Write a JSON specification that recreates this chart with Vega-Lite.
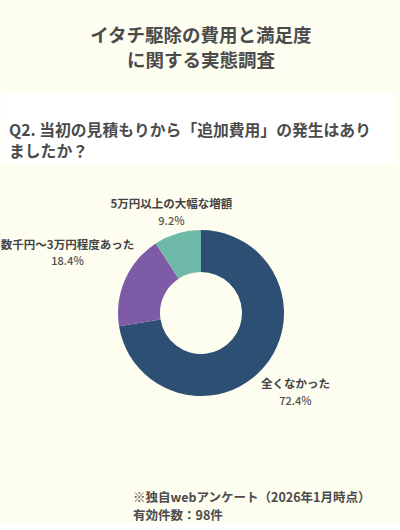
{
  "$schema": "https://vega.github.io/schema/vega-lite/v6.json",
  "background": "#fdfdf0",
  "padding": {"top": 26, "left": 0, "right": 0, "bottom": 0},
  "spacing": 0,
  "title": {
    "text": ["イタチ駆除の費用と満足度", "に関する実態調査"],
    "anchor": "middle",
    "frame": "bounds",
    "fontSize": 18.5,
    "fontWeight": "bold",
    "color": "#4b4b4b",
    "lineHeight": 25,
    "offset": 24
  },
  "config": {
    "view": {"stroke": null},
    "font": "Noto Sans CJK JP",
    "title": {"font": "Noto Sans CJK JP"},
    "text": {"font": "Noto Sans CJK JP"}
  },
  "datasets": {
    "survey": [
      {"category": "全くなかった", "count": 71, "pct": 0.724},
      {"category": "数千円～3万円程度あった", "count": 18, "pct": 0.184},
      {"category": "5万円以上の大幅な増額", "count": 9, "pct": 0.092}
    ]
  },
  "vconcat": [
    {
      "width": 394,
      "height": 70,
      "view": {"fill": "#ffffff", "stroke": null},
      "title": {
        "text": ["Q2. 当初の見積もりから「追加費用」の発生はあり", "ましたか？"],
        "anchor": "start",
        "frame": "group",
        "orient": "top",
        "offset": -67,
        "dx": 8,
        "fontSize": 15.8,
        "fontWeight": "bold",
        "color": "#4b4b4b",
        "lineHeight": 21.5
      },
      "data": {"values": [{}]},
      "mark": {"type": "text", "text": ""}
    },
    {
      "width": 400,
      "height": 298,
      "data": {"name": "survey"},
      "title": {
        "text": ["※独自webアンケート（2026年1月時点）", "有効件数：98件"],
        "anchor": "start",
        "frame": "group",
        "orient": "bottom",
        "offset": 30,
        "dx": 132,
        "fontSize": 12.5,
        "fontWeight": "bold",
        "color": "#4b4b4b",
        "lineHeight": 18
      },
      "encoding": {
        "theta": {"field": "count", "type": "quantitative", "stack": true},
        "order": {"field": "count", "sort": "descending"}
      },
      "layer": [
        {
          "mark": {"type": "arc", "innerRadius": 41, "outerRadius": 83},
          "encoding": {
            "color": {
              "field": "category",
              "type": "nominal",
              "scale": {
                "domain": ["全くなかった", "数千円～3万円程度あった", "5万円以上の大幅な増額"],
                "range": ["#2c4f73", "#7d5ba6", "#6fb9a9"]
              },
              "legend": null
            }
          }
        },
        {
          "mark": {
            "type": "text",
            "radius": {"expr": "datum.count == 18 ? 146 : datum.count == 71 ? 124 : 104"},
            "dy": -8,
            "fontSize": 11.5,
            "fontWeight": "bold",
            "color": "#444444",
            "align": "center",
            "baseline": "middle"
          },
          "encoding": {"text": {"field": "category", "type": "nominal"}}
        },
        {
          "mark": {
            "type": "text",
            "radius": {"expr": "datum.count == 18 ? 146 : datum.count == 71 ? 124 : 104"},
            "dy": 8.5,
            "fontSize": 11,
            "fontWeight": 500,
            "color": "#4f4f4f",
            "align": "center",
            "baseline": "middle"
          },
          "encoding": {"text": {"field": "pct", "type": "quantitative", "format": ".1%"}}
        }
      ]
    }
  ]
}
